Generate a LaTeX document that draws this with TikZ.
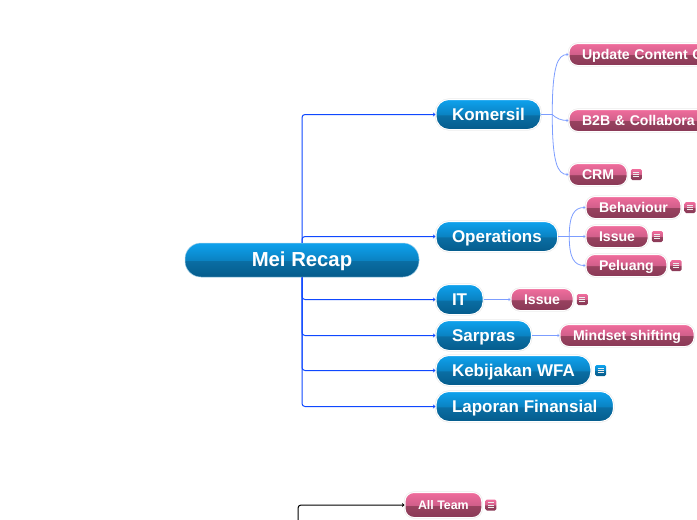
\documentclass[tikz,border=0pt]{standalone}
\usepackage{xcolor}
\usepackage{fontspec}
\setmainfont{Liberation Sans}
\usetikzlibrary{positioning, arrows.meta}

\definecolor{blueTop}{HTML}{0EA2EE}
\definecolor{blueMid}{HTML}{0A82C2}
\definecolor{blueLow}{HTML}{0A6EA4}
\definecolor{blueEnd}{HTML}{055C8C}
\definecolor{pinkTop}{HTML}{F06C9C}
\definecolor{pinkMid}{HTML}{D05F8A}
\definecolor{pinkLow}{HTML}{98425F}
\definecolor{pinkEnd}{HTML}{8A3957}
\definecolor{leadBlue}{HTML}{0F48FF}
\definecolor{subBlue}{HTML}{7C9DFF}

\pgfdeclareverticalshading{bluebar}{100bp}{color(0bp)=(blueEnd); color(25bp)=(blueEnd); color(49bp)=(blueLow); color(49.5bp)=(blueMid); color(75bp)=(blueTop); color(100bp)=(blueTop)}
\pgfdeclareverticalshading{pinkbar}{100bp}{color(0bp)=(pinkEnd); color(25bp)=(pinkEnd); color(49bp)=(pinkLow); color(49.5bp)=(pinkMid); color(75bp)=(pinkTop); color(100bp)=(pinkTop)}

\begin{document}
\begin{tikzpicture}[
    x=1pt, y=-1pt,
    root node/.style={rounded corners=16pt, shading=bluebar, draw=blueMid!40, line width=0.5pt, text=white, inner sep=0pt, minimum width=234pt, minimum height=34pt, text height=18pt, text depth=4.6pt, font=\fontsize{20.3}{24}\selectfont\bfseries},
    halo/.style={draw=white, line width=1pt, preaction={draw=black!8, line width=2.2pt}},
    topic node/.style={anchor=west, rounded corners=13pt, shading=bluebar, halo, text=white, inner xsep=16pt, inner ysep=0pt, minimum height=30pt, text height=15pt, text depth=4pt, font=\fontsize{17}{20}\selectfont\bfseries},
    sub node/.style={anchor=west, rounded corners=9pt, shading=pinkbar, halo, text=white, inner xsep=13pt, inner ysep=0pt, minimum height=22pt, text height=13pt, text depth=3.4pt, font=\fontsize{14.1}{17}\selectfont\bfseries},
    note node/.style={rounded corners=1.5pt, minimum size=11pt, inner sep=0pt, path picture={
        \draw[white!85!gray, line width=0.7pt] ([xshift=-3pt,yshift=2.2pt]path picture bounding box.center) -- ++(6,0) ++(-6,2.2) -- ++(6,0) ++(-6,2.2) -- ++(6,0);}},
    note pink/.style={note node, shading=pinkbar},
    note blue/.style={note node, shading=bluebar},
    lead/.style={-{Stealth[length=2.5pt,width=4pt]}, leadBlue, line width=1pt, rounded corners=3pt},
    branch/.style={-{Stealth[length=2pt,width=3pt]}, subBlue, line width=0.8pt}
]

\clip (0,0) rectangle (697,520);

\node[root node] (root) at (302,260) {Mei Recap};

% main topics
\node[topic node] (komersil) at (435.5,114.5) {Komersil};
\node[topic node] (operations) at (435.5,236.5) {Operations};
\node[topic node] (it) at (435.5,299.5) {IT};
\node[topic node] (sarpras) at (435.5,335.5) {Sarpras};
\node[topic node] (wfa) at (435.5,370.5) {Kebijakan WFA};
\node[topic node] (laporan) at (435.5,406.5) {Laporan Finansial};
\node[note blue, right=3.5pt of wfa] (wfanote) {};

% sub topics
\node[sub node, text width=130pt, align=left] (content) at (568.5,54.5) {Update Content C};
\node[sub node, text width=130pt, align=left] (b2b) at (568.5,120.5) {B2B \& Collabora};
\node[sub node] (crm) at (568.5,174.5) {CRM};
\node[sub node] (behaviour) at (585.5,207.5) {Behaviour};
\node[sub node] (issueops) at (585.5,236.5) {Issue};
\node[sub node] (peluang) at (585.5,265.5) {Peluang};
\node[sub node] (issueit) at (510.5,299.5) {Issue};
\node[sub node] (mindset) at (559.5,335.5) {Mindset shifting};
\node[sub node, minimum height=25pt, text height=11pt, text depth=2.6pt, font=\fontsize{12.4}{15}\selectfont\bfseries] (allteam) at (404.5,505) {All Team};

\node[note pink, right=3pt of crm] (crmnote) {};
\node[note pink, right=3pt of behaviour] (behaviournote) {};
\node[note pink, right=3pt of issueops] (issueopsnote) {};
\node[note pink, right=3pt of peluang] (peluangnote) {};
\node[note pink, right=3pt of issueit] (issueitnote) {};
\node[note pink, right=3pt of mindset] (mindsetnote) {};
\node[note pink, right=3pt of allteam] (allteamnote) {};

\coordinate (lower) at (298,530);

\draw[lead] (root.north) |- (komersil.west);
\draw[lead] (root.north) |- (operations.west);
\draw[lead] (root.south) |- (it.west);
\draw[lead] (root.south) |- (sarpras.west);
\draw[lead] (root.south) |- (wfa.west);
\draw[lead] (root.south) |- (laporan.west);
\draw[lead, black] (lower) |- (allteam.west);

\draw[branch] (komersil.east) -- ++(11,0) .. controls +(0,-48) and +(-11,0) .. (content.west);
\draw[branch] (komersil.east) -- ++(11,0) .. controls +(4,4) and +(-7,0) .. (b2b.west);
\draw[branch] (komersil.east) -- ++(11,0) .. controls +(0,48) and +(-11,0) .. (crm.west);
\draw[branch] (operations.east) -- ++(11,0) .. controls +(0,-22) and +(-11,0) .. (behaviour.west);
\draw[branch] (operations.east) -- (issueops.west);
\draw[branch] (operations.east) -- ++(11,0) .. controls +(0,22) and +(-11,0) .. (peluang.west);
\draw[branch] (it.east) -- (issueit.west);
\draw[branch] (sarpras.east) -- (mindset.west);

\end{tikzpicture}
\end{document}
